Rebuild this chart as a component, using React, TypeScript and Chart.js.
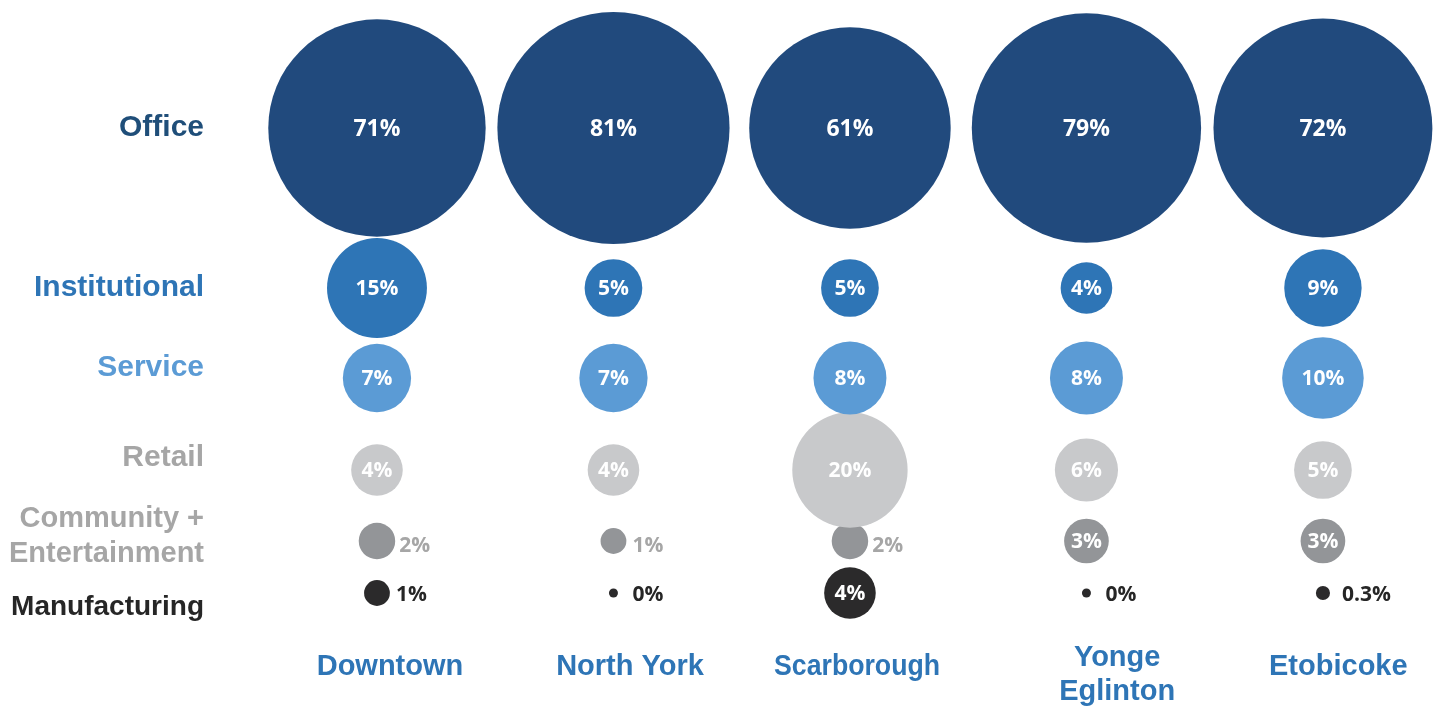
import { useEffect, useRef } from "react";
import { Chart, registerables } from "chart.js";

Chart.register(...registerables);

// ---------------- DATA ----------------
const districts = ["Downtown", "North York", "Scarborough", "Yonge Eglinton", "Etobicoke"];
const districtLabelLines = [["Downtown"], ["North York"], ["Scarborough"], ["Yonge", "Eglinton"], ["Etobicoke"]];
const categories = ["Office", "Institutional", "Service", "Retail", "Community + Entertainment", "Manufacturing"];
const categoryLabelLines = [["Office"], ["Institutional"], ["Service"], ["Retail"], ["Community +", "Entertainment"], ["Manufacturing"]];

const office = [71, 81, 61, 79, 72];
const institutional = [15, 5, 5, 4, 9];
const service = [7, 7, 8, 8, 10];
const retail = [4, 4, 20, 6, 5];
const community = [2, 1, 2, 3, 3];
const manufacturing = [1, 0, 4, 0, 0.3];

const series = [office, institutional, service, retail, community, manufacturing];

// ---------------- LAYOUT / STYLE ----------------
const W = 1440;
const H = 706;
const X_MIN = -1.594;
const X_MAX = 4.495;
const ROW_LEVEL = [128, 288, 378, 470, 541, 593];
const CATEGORY_LABEL_LEVEL = [128, 288, 368, 458, 536, 607];
const CATEGORY_LABEL_SIZE = [30, 30, 30, 30, 29, 28];
const CATEGORY_LABEL_RIGHT = 204;
const DISTRICT_LABEL_SHIFT = [0.055, 0.07, 0.03, 0.13, 0.065];
const DISTRICT_LABEL_LEVEL = 667;
const DISTRICT_LABEL_MAX_WIDTH = 166;
const BUBBLE_SCALE = 12.9;
const MIN_RADIUS = 4.5;
const OUTSIDE_THRESHOLD = 3;

const bubbleColors = ["#214A7D", "#2E75B6", "#5B9BD5", "#C8C9CB", "#939598", "#2B2A2B"];
const categoryLabelColors = ["#1F4E79", "#2E75B6", "#5B9BD5", "#A6A6A6", "#A6A6A6", "#262626"];
const outsideLabelColors = ["#FFFFFF", "#FFFFFF", "#FFFFFF", "#A6A6A6", "#A6A6A6", "#262626"];
const outsideLabelDrop = [0, 0, 0, 0, 4, 1];
const districtColor = "#2E75B6";

const radiusFor = (v: number) => Math.max(MIN_RADIUS, BUBBLE_SCALE * Math.sqrt(v));

const labelPlugin = {
  id: "bubbleLabels",
  afterDatasetsDraw(chart: any) {
    const ctx = chart.ctx;
    const xs = chart.scales.x;
    const ys = chart.scales.y;
    ctx.save();
    series.forEach((vals, d) => {
      const meta = chart.getDatasetMeta(d);
      meta.data.forEach((el: any, i: number) => {
        const v = vals[i];
        const r = el.options.radius;
        const text = `${v}%`;
        ctx.textBaseline = "middle";
        if (v >= OUTSIDE_THRESHOLD) {
          ctx.font = `bold ${d === 0 ? 23 : 21}px "Open Sans"`;
          ctx.fillStyle = "#FFFFFF";
          ctx.textAlign = "center";
          ctx.fillText(text, el.x, el.y + 1);
        } else {
          ctx.font = `bold 21px "Open Sans"`;
          ctx.fillStyle = outsideLabelColors[d];
          ctx.textAlign = "left";
          ctx.fillText(text, el.x + Math.max(r + 4, 19), el.y + 1 + outsideLabelDrop[d]);
        }
      });
    });
    ctx.textAlign = "right";
    ctx.textBaseline = "middle";
    categoryLabelLines.forEach((lines, k) => {
      ctx.font = `bold ${CATEGORY_LABEL_SIZE[k]}px "Liberation Sans"`;
      ctx.fillStyle = categoryLabelColors[k];
      const lh = 35;
      const cy = ys.getPixelForValue(CATEGORY_LABEL_LEVEL[k]);
      const y0 = cy - ((lines.length - 1) * lh) / 2;
      lines.forEach((line, j) => ctx.fillText(line, CATEGORY_LABEL_RIGHT, y0 + j * lh));
    });
    ctx.textAlign = "center";
    ctx.font = `bold 29px "Liberation Sans"`;
    ctx.fillStyle = districtColor;
    districtLabelLines.forEach((lines, i) => {
      const x = xs.getPixelForValue(i + DISTRICT_LABEL_SHIFT[i]);
      const y0 = ys.getPixelForValue(DISTRICT_LABEL_LEVEL) - (lines.length - 1) * 9;
      lines.forEach((line, j) => ctx.fillText(line, x, y0 + j * 34, DISTRICT_LABEL_MAX_WIDTH));
    });
    ctx.restore();
  },
};

export default function App() {
  const ref = useRef<HTMLCanvasElement | null>(null);
  useEffect(() => {
    if (!ref.current) return;
    const chart = new Chart(ref.current, {
      type: "bubble",
      data: {
        datasets: series.map((vals, d) => ({
          label: categories[d],
          data: vals.map((v, i) => ({ x: i, y: ROW_LEVEL[d], r: radiusFor(v) })),
          backgroundColor: bubbleColors[d],
          borderWidth: 0,
          hoverBorderWidth: 0,
          clip: false as any,
        })),
      },
      options: {
        animation: false,
        responsive: false,
        events: [],
        layout: { padding: 0, autoPadding: false },
        plugins: { legend: { display: false }, tooltip: { enabled: false } },
        scales: {
          x: { type: "linear", min: X_MIN, max: X_MAX, display: false, labels: districts } as any,
          y: { type: "linear", min: 0, max: H, reverse: true, display: false },
        },
      },
      plugins: [labelPlugin],
    });
    return () => chart.destroy();
  }, []);
  return (
    <div style={{ position: "fixed", left: 0, top: 0, width: W, height: H, background: "#fff" }}>
      <canvas ref={ref} width={W} height={H} style={{ display: "block" }} />
    </div>
  );
}
